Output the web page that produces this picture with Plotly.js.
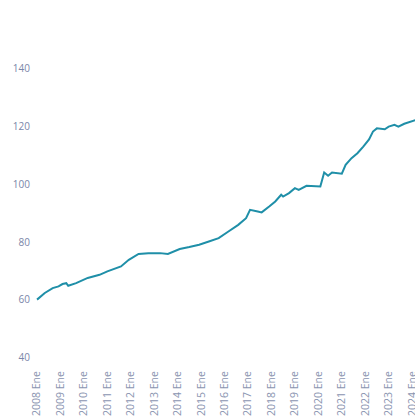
<!DOCTYPE html>
<html>
<head>
<meta charset="utf-8">
<script src="https://cdn.plot.ly/plotly-3.0.1.min.js"></script>
<style>
html,body{margin:0;padding:0;background:#fff;overflow:hidden;}
#wrap{width:415px;height:419px;overflow:hidden;}
#chart{width:440px;height:419px;}
</style>
</head>
<body>
<div id="wrap"><div id="chart"></div></div>
<script>
const dates = ["2008-01-01","2008-05-01","2008-09-01","2008-12-01","2009-02-01","2009-04-01","2009-05-01","2009-09-01",
"2010-03-01","2010-09-01","2011-01-01","2011-05-01","2011-08-01","2011-12-01","2012-05-01","2012-10-01",
"2013-04-01","2013-08-01","2014-02-01","2014-07-01","2014-12-01","2015-05-01","2015-10-01","2016-03-01",
"2016-08-01","2016-12-01","2017-02-01","2017-06-01","2017-08-01","2017-12-01","2018-03-01","2018-06-01",
"2018-07-01","2018-10-01","2019-01-01","2019-03-01","2019-07-01","2020-02-01","2020-03-01","2020-04-01",
"2020-06-01","2020-08-01","2021-01-01","2021-03-01","2021-06-01","2021-09-01","2021-12-01","2022-03-01",
"2022-05-01","2022-07-01","2022-11-01","2023-01-01","2023-04-01","2023-06-01","2023-09-01","2024-01-01","2024-03-01"];
const values = [60.1,62.4,64.1,64.7,65.5,65.8,64.9,65.8,
67.6,68.7,69.9,71.0,71.6,73.9,75.9,76.2,
76.2,75.9,77.6,78.3,79.1,80.2,81.4,83.7,
86.0,88.3,91.2,90.6,90.3,92.4,94.1,96.4,
95.8,97.0,98.7,98.1,99.5,99.3,101.6,104.1,
103.0,104.1,103.7,106.8,109.1,110.8,113.1,115.6,
118.3,119.4,119.1,120.0,120.6,120.0,121.0,121.8,122.3];
const tickVals = ["2008-01-01","2009-01-01","2010-01-01","2011-01-01","2012-01-01","2013-01-01","2014-01-01","2015-01-01",
"2016-01-01","2017-01-01","2018-01-01","2019-01-01","2020-01-01","2021-01-01","2022-01-01","2023-01-01","2024-01-01"];
const tickText = ["2008 Ene","2009 Ene","2010 Ene","2011 Ene","2012 Ene","2013 Ene","2014 Ene","2015 Ene",
"2016 Ene","2017 Ene","2018 Ene","2019 Ene","2020 Ene","2021 Ene","2022 Ene","2023 Ene","2024 Ene"];

const trace = {
  x: dates, y: values, type: "scatter", mode: "lines",
  line: {color: "#1f8fa8", width: 2, shape: "linear"},
  hoverinfo: "x+y", showlegend: false
};
const layout = {
  width: 440, height: 419,
  margin: {l: 36, r: 25, t: 40, b: 57},
  paper_bgcolor: "#fff", plot_bgcolor: "#fff",
  font: {family: "Open Sans, sans-serif", size: 10, color: "#7a86a8"},
  xaxis: {
    type: "date",
    range: ["2007-12-16", "2024-02-15"],
    tickvals: tickVals, ticktext: tickText, tickangle: -90,
    showgrid: false, zeroline: false, showline: false, ticks: "",
    ticklabelstandoff: 6,
    tickfont: {size: 10.5, color: "#8a94b0"}
  },
  yaxis: {
    range: [38.5, 150],
    tickvals: [40,60,80,100,120,140],
    showgrid: false, zeroline: false, showline: false, ticks: "",
    ticklabelstandoff: 5,
    tickfont: {size: 10, color: "#7a86a8"}
  }
};
Plotly.newPlot("chart", [trace], layout, {displayModeBar: false, staticPlot: true});
</script>
</body>
</html>
